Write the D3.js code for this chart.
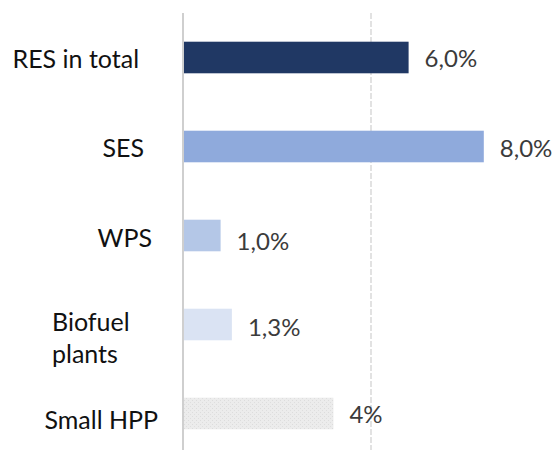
<!DOCTYPE html>
<html>
<head>
<meta charset="utf-8">
<script src="https://cdn.jsdelivr.net/npm/d3@7/dist/d3.min.js"></script>
<style>
  html, body { margin: 0; padding: 0; background: #fff; }
  svg { display: block; }
  text { font-family: Lato, "Open Sans", sans-serif; }
</style>
</head>
<body>
<script>
// ---- data ----
const categories = ["RES in total", "SES", "WPS", "Biofuel plants", "Small HPP"];
const categoryLines = [["RES in total"], ["SES"], ["WPS"], ["Biofuel", "plants"], ["Small HPP"]];
const values = [6.0, 8.0, 1.0, 1.3, 4.0];
const valueLabels = ["6,0%", "8,0%", "1,0%", "1,3%", "4%"];
const gridTicks = [0, 5, 10];

// ---- layout / style (not data) ----
const W = 556, H = 450;
const colors = ["#203864", "#8faadc", "#b4c7e7", "#dae3f3", "#ebebeb"];
const labelX = [12.5, 102.5, 97.5, 52, 44.5];
const labelDy = [10.5, 10.5, 11.5, 6, 15];
const valueDy = [9.5, 10.5, 14, 11, 9];

const svg = d3.select("body").append("svg").attr("width", W).attr("height", H);

const defs = svg.append("defs");
const pat = defs.append("pattern").attr("id", "dots").attr("patternUnits", "userSpaceOnUse")
  .attr("width", 4).attr("height", 4);
pat.append("rect").attr("width", 4).attr("height", 4).attr("fill", "#ececec");
pat.append("rect").attr("x", 0).attr("y", 0).attr("width", 1).attr("height", 1).attr("fill", "#dcdcdc");
pat.append("rect").attr("x", 2).attr("y", 2).attr("width", 1).attr("height", 1).attr("fill", "#dedede");

const x = d3.scaleLinear().domain([0, 10]).range([183, 559]);
const y = d3.scaleBand().domain(categories).range([13, 458]).paddingInner(0.645).paddingOuter(0.3225);

// gridlines
svg.append("g").selectAll("line").data(gridTicks).join("line")
  .attr("x1", d => x(d)).attr("x2", d => x(d))
  .attr("y1", 13).attr("y2", H)
  .attr("stroke", d => d === 0 ? "#cfcfcf" : "#e2e2e2")
  .attr("stroke-width", 2)
  .attr("stroke-dasharray", d => d === 0 ? null : "6,2");

// bars
svg.append("g").selectAll("rect").data(values).join("rect")
  .attr("x", x(0) + 1)
  .attr("y", (d, i) => y(categories[i]))
  .attr("width", d => x(d) - x(0) - 1)
  .attr("height", y.bandwidth())
  .attr("fill", (d, i) => i === 4 ? "url(#dots)" : colors[i]);

// value labels
svg.append("g").selectAll("text").data(values).join("text")
  .attr("x", d => x(d) + 16)
  .attr("y", (d, i) => y(categories[i]) + y.bandwidth() / 2 + valueDy[i])
  .attr("font-size", 24)
  .attr("fill", "#3b3b3b")
  .text((d, i) => valueLabels[i]);

// category labels
const cl = svg.append("g").selectAll("text").data(categories).join("text")
  .attr("x", (d, i) => labelX[i])
  .attr("y", (d, i) => y(d) + y.bandwidth() / 2 + labelDy[i])
  .attr("font-size", 25)
  .attr("fill", "#111");
cl.each(function(d, i) {
  const t = d3.select(this);
  categoryLines[i].forEach((ln, j) => {
    t.append("tspan").attr("x", labelX[i]).attr("dy", j === 0 ? 0 : 32.7).text(ln);
  });
});
</script>
</body>
</html>
